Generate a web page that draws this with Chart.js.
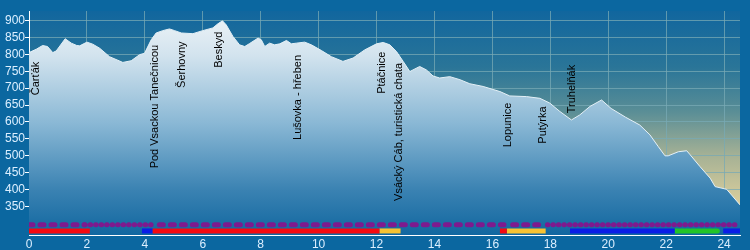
<!DOCTYPE html>
<html lang="cs">
<head>
  <meta charset="UTF-8" />
  <title>Výškový profil trasy</title>
  <script src="https://cdn.jsdelivr.net/npm/chart.js"></script>
  <style>
    body {
      margin: 0;
      background-color: #0b67a0;
    }
    #profile {
      display: block;
    }
  </style>
</head>
<body>
  <canvas id="profile" width="750" height="250"></canvas>

  <script>
    // výškový profil: vzdálenost (km) a nadmořská výška (m)
    const distKm = [
      0.00, 0.25, 0.47, 0.64, 0.82, 0.94, 1.25, 1.46, 1.65, 1.75,
      2.00, 2.20, 2.44, 2.78, 3.24, 3.53, 3.82, 3.99, 4.22, 4.39,
      4.62, 4.85, 5.03, 5.26, 5.66, 6.00, 6.35, 6.52, 6.68, 6.81,
      7.04, 7.27, 7.45, 7.62, 7.91, 8.02, 8.14, 8.31, 8.48, 8.66,
      8.89, 9.06, 9.23, 9.52, 9.75, 10.10, 10.44, 10.84, 11.19, 11.59,
      12.00, 12.23, 12.46, 12.69, 12.92, 13.15, 13.26, 13.49, 13.72, 13.95,
      14.18, 14.53, 14.88, 15.22, 15.68, 16.26, 16.60, 17.18, 17.64, 17.98,
      18.33, 18.73, 19.02, 19.37, 19.77, 20.10, 20.60, 21.09, 21.44, 21.73,
      21.96, 22.07, 22.42, 22.71, 22.83, 23.17, 23.52, 23.69, 24.09, 24.26,
      24.55
    ];
    const elevation = [
      805, 815, 826, 823, 805, 810, 846, 833, 826, 825,
      836, 830, 818, 793, 776, 781, 799, 803, 843, 863,
      870, 875, 870, 863, 861, 870, 878, 890, 899, 887,
      853, 828, 823, 832, 848, 843, 823, 833, 828, 831,
      841, 831, 833, 836, 828, 811, 793, 779, 789, 813,
      831, 835, 828, 808, 779, 749, 754, 764, 754, 736,
      730, 734, 725, 713, 705, 690, 677, 675, 670, 656,
      631, 606, 621, 646, 665, 640, 614, 591, 562, 527,
      500, 500, 512, 515, 503, 468, 434, 409, 401, 384,
      355
    ];

    const xTicks = [0, 2, 4, 6, 8, 10, 12, 14, 16, 18, 20, 22, 24];
    const yTicks = [350, 400, 450, 500, 550, 600, 650, 700, 750, 800, 850, 900];

    // body na trase: název, km, výška konce popisku
    const placeNames = [
      "Čarťák", "Pod Vsackou Tanečnicou", "Šerhovny", "Beskyd", "Lušovka - hřeben",
      "Ptáčnice", "Vsácký Cáb, turistická chata", "Lopunice", "Putýrka", "Truhelňák"
    ];
    const placeKm = [0.25, 4.34, 5.28, 6.55, 9.28, 12.2, 12.77, 16.53, 17.74, 18.75];
    const placeTop = [778, 828, 838, 867, 798, 808, 775, 657, 646, 769];

    // povrch (horní řada) a značení (spodní řada), úseky v km
    const surfaceDashRuns = [[0, 1.9], [4.5, 16.4], [16.7, 17.75]];
    const surfaceDotRuns = [[1.92, 4.28], [17.9, 24.45]];
    const redRuns = [[0, 2.1], [4.27, 12.1], [16.26, 16.5]];
    const blueRuns = [[3.9, 4.27], [18.68, 22.3], [23.97, 24.55]];
    const yellowRuns = [[12.1, 12.83], [16.5, 17.84]];
    const greenRuns = [[22.3, 23.8]];
    const surfaceRow = 296;
    const markRow = 278;

    const tickColor = "#dcefff";
    const font = "'Liberation Sans', Arial, sans-serif";

    function runDatasets(runs, row, color, width, dash, cap) {
      return runs.map(r => ({
        data: [{ x: r[0], y: row }, { x: r[1], y: row }],
        borderColor: color,
        borderWidth: width,
        borderDash: dash,
        borderCapStyle: cap,
        pointRadius: 0,
        fill: false,
        order: 0
      }));
    }

    const plotBackground = {
      id: "plotBackground",
      beforeDraw(chart) {
        const { ctx, chartArea: a } = chart;
        ctx.save();
        ctx.fillStyle = "#0b67a0";
        ctx.fillRect(0, 0, chart.width, chart.height);
        const g = ctx.createLinearGradient(0, a.top, 0, a.bottom);
        g.addColorStop(0, "#11669e");
        g.addColorStop(0.25, "#2a7598");
        g.addColorStop(0.45, "#5a8e96");
        g.addColorStop(0.65, "#a7b295");
        g.addColorStop(0.85, "#d8cd9c");
        g.addColorStop(1, "#eadba2");
        ctx.fillStyle = g;
        ctx.fillRect(a.left, a.top, a.right - a.left, a.bottom - a.top);
        ctx.restore();
      }
    };

    const placeLabels = {
      id: "placeLabels",
      afterDatasetsDraw(chart) {
        const { ctx } = chart;
        const xs = chart.scales.x, ys = chart.scales.y;
        ctx.save();
        ctx.fillStyle = "#000";
        ctx.font = "11px " + font;
        ctx.textAlign = "right";
        ctx.textBaseline = "middle";
        placeNames.forEach((name, i) => {
          ctx.save();
          ctx.translate(xs.getPixelForValue(placeKm[i]), ys.getPixelForValue(placeTop[i]));
          ctx.rotate(-Math.PI / 2);
          ctx.fillText(name, 0, 0);
          ctx.restore();
        });
        ctx.restore();
      }
    };

    const datasets = [
      {
        data: distKm.map((k, i) => ({ x: k, y: elevation[i] })),
        borderColor: "#e4f0f7",
        borderWidth: 1,
        pointRadius: 0,
        tension: 0,
        fill: "start",
        order: 1,
        backgroundColor(context) {
          const a = context.chart.chartArea;
          if (!a) return "#8ab8d5";
          const g = context.chart.ctx.createLinearGradient(0, a.top, 0, a.bottom);
          g.addColorStop(0, "#f0f5f8");
          g.addColorStop(0.2, "#d2e3ee");
          g.addColorStop(0.5, "#8ab8d5");
          g.addColorStop(0.8, "#3a82b2");
          g.addColorStop(1, "#1167a0");
          return g;
        }
      },
      ...runDatasets(surfaceDashRuns, surfaceRow, "#7e1a8e", 5, [4, 7], "round"),
      ...runDatasets(surfaceDotRuns, surfaceRow, "#7e1a8e", 5, [0.5, 5], "round"),
      ...runDatasets(redRuns, markRow, "#f50a10", 5, [], "butt"),
      ...runDatasets(blueRuns, markRow, "#0a1ee6", 5, [], "butt"),
      ...runDatasets(yellowRuns, markRow, "#f7c232", 5, [], "butt"),
      ...runDatasets(greenRuns, markRow, "#22c428", 5, [4, 1.5], "round")
    ];

    new Chart(document.getElementById("profile"), {
      type: "line",
      data: { datasets: datasets },
      options: {
        responsive: false,
        animation: false,
        devicePixelRatio: 1,
        layout: { padding: { top: 11, right: 10, left: 0, bottom: 0 } },
        plugins: {
          legend: { display: false },
          tooltip: { enabled: false }
        },
        scales: {
          x: {
            type: "linear",
            min: 0,
            max: 24.55,
            afterBuildTicks: s => { s.ticks = xTicks.map(v => ({ value: v })); },
            afterFit: s => { s.height = 15; },
            ticks: { color: tickColor, font: { family: font, size: 12 }, padding: 2, maxRotation: 0, autoSkip: false },
            grid: { color: "rgba(120,170,180,0.75)", drawTicks: false },
            border: { color: "#ffffff" }
          },
          y: {
            min: 266,
            max: 928,
            afterBuildTicks: s => { s.ticks = yTicks.map(v => ({ value: v })); },
            afterFit: s => { s.width = 29; },
            ticks: { color: tickColor, font: { family: font, size: 12 }, padding: 0, autoSkip: false },
            grid: { color: "rgba(120,170,180,0.75)", tickLength: 4, tickColor: "#ffffff" },
            border: { color: "#ffffff" }
          }
        }
      },
      plugins: [plotBackground, placeLabels]
    });
  </script>
</body>
</html>
